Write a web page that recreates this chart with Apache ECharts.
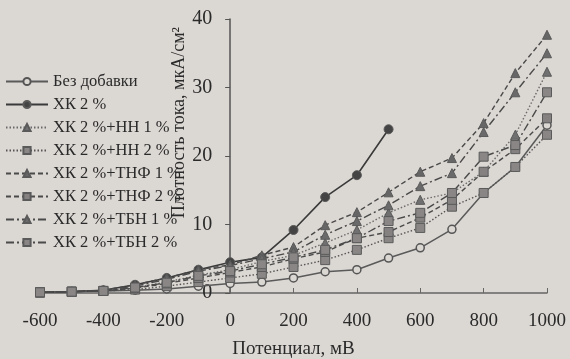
<!DOCTYPE html>
<html>
<head>
<meta charset="utf-8">
<script src="https://cdn.jsdelivr.net/npm/echarts@6/dist/echarts.min.js"></script>
<style>
  html, body { margin: 0; padding: 0; background: #dbd7d3; }
  #chart { width: 570px; height: 359px; }
</style>
</head>
<body>
<div id="chart"></div>
<script>
// потенциал, мВ
var potential = [-600, -500, -400, -300, -200, -100, 0, 100, 200, 300, 400, 500, 600, 700, 800, 900, 1000];

// плотность тока, мкА/см2
var noAdditive = [0.1, 0.2, 0.3, 0.4, 0.6, 1.0, 1.4, 1.6, 2.2, 3.1, 3.4, 5.1, 6.6, 9.3, 14.6, 18.4, 24.5];
var hk2 = [0.1, 0.2, 0.4, 1.2, 2.2, 3.4, 4.5, 5.2, 9.2, 14.0, 17.2, 23.9];
var hk2nn1 = [0.1, 0.2, 0.3, 0.8, 1.6, 2.6, 3.4, 4.6, 5.5, 7.3, 9.2, 11.7, 13.6, 14.6, 17.7, 23.1, 32.3];
var hk2nn2 = [0.1, 0.2, 0.3, 0.5, 1.0, 1.6, 2.2, 2.8, 3.8, 4.8, 6.3, 8.0, 9.5, 12.6, 14.6, 18.4, 23.1];
var hk2tnf1 = [0.1, 0.2, 0.4, 1.2, 2.2, 3.4, 4.1, 5.5, 6.7, 9.9, 11.8, 14.7, 17.7, 19.7, 24.8, 32.1, 37.7];
var hk2tnf2 = [0.1, 0.2, 0.3, 0.7, 1.4, 2.2, 3.0, 3.8, 5.0, 6.0, 8.0, 8.9, 11.0, 13.6, 17.7, 21.0, 25.5];
var hk2tbn1 = [0.1, 0.2, 0.4, 1.0, 2.0, 3.2, 4.0, 5.0, 6.0, 8.5, 10.5, 12.8, 15.6, 17.5, 23.5, 29.3, 35.0];
var hk2tbn2 = [0.1, 0.2, 0.3, 0.8, 1.5, 2.5, 3.2, 4.2, 5.2, 6.3, 8.0, 10.5, 11.7, 14.6, 19.9, 21.6, 29.3];

var names = [
  "Без добавки",
  "ХК 2 %",
  "ХК 2 %+НН 1 %",
  "ХК 2 %+НН 2 %",
  "ХК 2 %+ТНФ 1 %",
  "ХК 2 %+ТНФ 2 %",
  "ХК 2 %+ТБН 1 %",
  "ХК 2 %+ТБН 2 %"
];

var FONT = "Liberation Serif";
var BG = "#dbd7d3";
var TEXT = "#2a2a2a";
var DOTTED = [1.5, 2];
var DASHED = [5, 3];
var DASHDOT = [8, 3, 2, 3];

var X_MIN = -600, X_MAX = 1000;
var GRID = { left: 40, right: 23, top: 19, bottom: 66, outerBoundsMode: "none", containLabel: false };

function pairs(vals) {
  var res = [];
  for (var i = 0; i < vals.length; i++) res.push([potential[i], vals[i]]);
  return res;
}

function makeSeries(name, vals, symbol, lineType, lineColor, symColor, lineWidth) {
  var open = symbol === "open";
  return {
    name: name,
    type: "line",
    data: pairs(vals),
    symbol: open ? "circle" : symbol,
    symbolSize: open ? 8 : 9,
    lineStyle: { color: lineColor, width: lineWidth || 1.4, type: lineType },
    itemStyle: {
      color: open ? BG : symColor,
      borderColor: open ? "#555" : "#5a5a5a",
      borderWidth: open ? 1.5 : 1
    },
    z: 3
  };
}

var series = [
  makeSeries(names[0], noAdditive, "open", "solid", "#5a5a5a", "#5a5a5a", 1.5),
  makeSeries(names[1], hk2, "circle", "solid", "#3a3a3a", "#444", 1.6),
  makeSeries(names[2], hk2nn1, "triangle", DOTTED, "#6a6a6a", "#707070"),
  makeSeries(names[3], hk2nn2, "rect", DOTTED, "#555", "#8a8686"),
  makeSeries(names[4], hk2tnf1, "triangle", DASHED, "#4a4a4a", "#666"),
  makeSeries(names[5], hk2tnf2, "rect", DASHED, "#4a4a4a", "#858181"),
  makeSeries(names[6], hk2tbn1, "triangle", DASHDOT, "#4a4a4a", "#6a6a6a"),
  makeSeries(names[7], hk2tbn2, "rect", DASHDOT, "#4a4a4a", "#8a8686")
];

var el = document.getElementById("chart");
var chart = echarts.init(el);
// ось Y проходит через 0 мВ
var gridWidth = el.clientWidth - GRID.left - GRID.right;
var yOffset = -gridWidth * (0 - X_MIN) / (X_MAX - X_MIN);

var option = {
  backgroundColor: BG,
  animation: false,
  textStyle: { fontFamily: FONT, color: TEXT },
  grid: GRID,
  legend: {
    data: names,
    orient: "vertical",
    left: 0,
    top: 68,
    itemWidth: 42,
    itemHeight: 9,
    itemGap: 6,
    textStyle: { fontFamily: FONT, fontSize: 16.5, color: TEXT }
  },
  xAxis: {
    type: "value",
    min: X_MIN,
    max: X_MAX,
    interval: 200,
    name: "Потенциал, мВ",
    nameLocation: "middle",
    nameGap: 47,
    nameTextStyle: { fontFamily: FONT, fontSize: 19, color: TEXT },
    axisLine: { onZero: true, lineStyle: { color: "#666", width: 1.5 } },
    axisTick: { inside: true, length: 5, lineStyle: { color: "#666" } },
    axisLabel: {
      fontFamily: FONT, fontSize: 19, color: TEXT, margin: 19,
      formatter: function (v) { return String(v); }
    },
    splitLine: { show: false }
  },
  yAxis: {
    type: "value",
    min: 0,
    max: 40,
    interval: 10,
    offset: yOffset,
    axisLine: { show: true, onZero: false, lineStyle: { color: "#555", width: 1.5 } },
    axisTick: { show: true, length: 5, lineStyle: { color: "#555" } },
    axisLabel: { fontFamily: FONT, fontSize: 20, color: TEXT, margin: 18 },
    splitLine: { show: false }
  },
  graphic: [{
    type: "text",
    left: 170,
    top: 27,
    rotation: Math.PI / 2,
    style: {
      text: "Плотность тока, мкА/см²",
      font: "18px " + FONT,
      fill: TEXT
    }
  }],
  series: series
};
chart.setOption(option);
</script>
</body>
</html>
